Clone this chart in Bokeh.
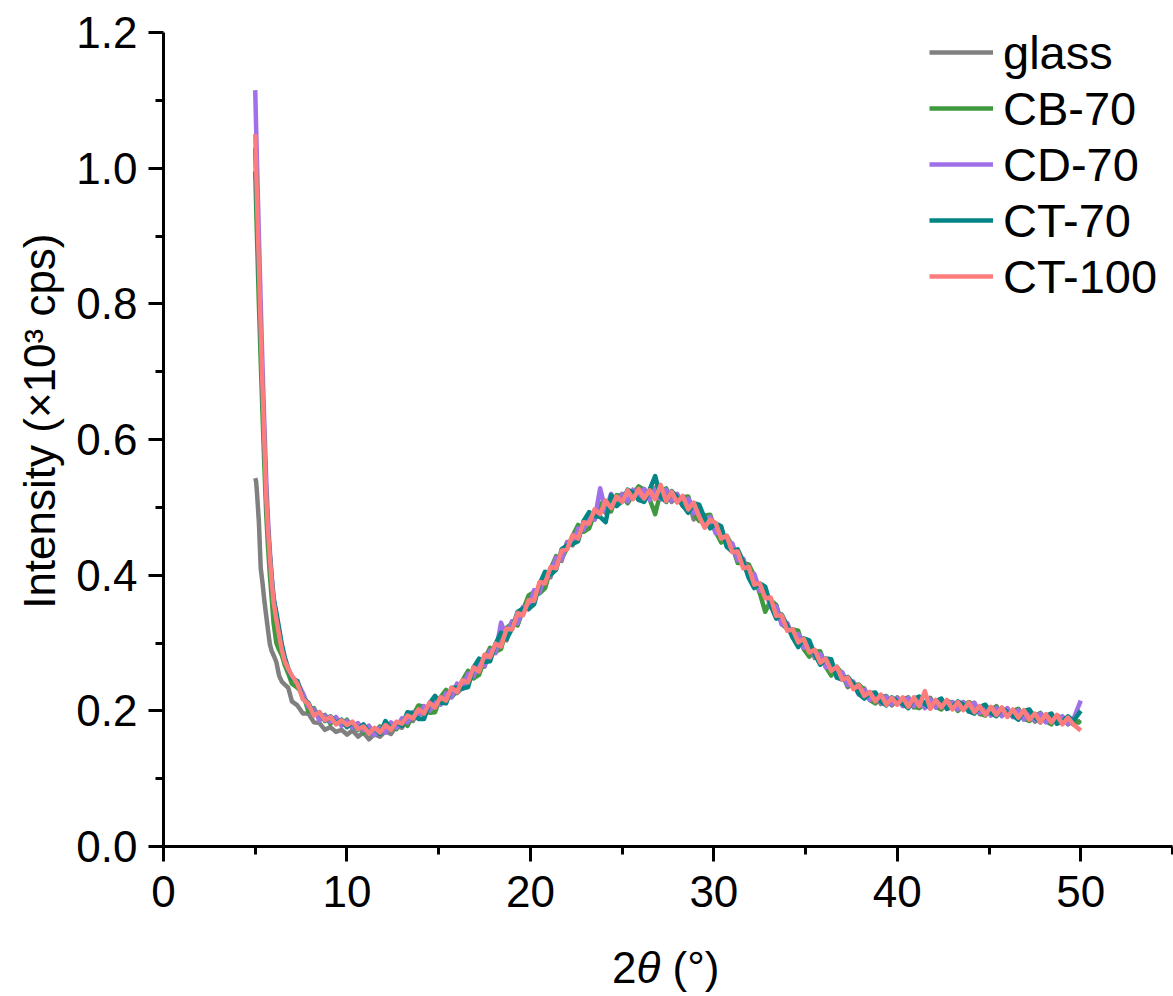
from bokeh.plotting import figure
from bokeh.models import (Range1d, FixedTicker, Legend, LegendItem, Div,
                          PrintfTickFormatter, ColumnDataSource)
from bokeh.layouts import column
from bokeh.embed import file_html
from bokeh.resources import INLINE

# 2-theta (degrees)
two_theta = [
    5.0, 5.05, 5.1, 5.2, 5.3, 5.4, 5.5, 5.6, 5.7, 5.8, 5.9, 6.0, 6.15, 6.3, 6.45, 6.6, 6.8, 7.0,
    7.3, 7.6, 7.9, 8.2, 8.5, 8.8, 9.1, 9.4, 9.7, 10.0,
    10.3, 10.6, 10.9, 11.2, 11.5, 11.8, 12.1, 12.4, 12.7, 13.0,
    13.3, 13.6, 13.9, 14.2, 14.5, 14.8, 15.1, 15.4, 15.7, 16.0,
    16.3, 16.6, 16.9, 17.2, 17.5, 17.8, 18.1, 18.4, 18.7, 19.0,
    19.3, 19.6, 19.9, 20.2, 20.5, 20.8, 21.1, 21.4, 21.7, 22.0,
    22.3, 22.6, 22.9, 23.2, 23.5, 23.8, 24.1, 24.4, 24.7, 25.0,
    25.3, 25.6, 25.9, 26.2, 26.5, 26.8, 27.1, 27.4, 27.7, 28.0,
    28.3, 28.6, 28.9, 29.2, 29.5, 29.8, 30.1, 30.4, 30.7, 31.0,
    31.3, 31.6, 31.9, 32.2, 32.5, 32.8, 33.1, 33.4, 33.7, 34.0,
    34.3, 34.6, 34.9, 35.2, 35.5, 35.8, 36.1, 36.4, 36.7, 37.0,
    37.3, 37.6, 37.9, 38.2, 38.5, 38.8, 39.1, 39.4, 39.7, 40.0,
    40.3, 40.6, 40.9, 41.2, 41.5, 41.8, 42.1, 42.4, 42.7, 43.0,
    43.3, 43.6, 43.9, 44.2, 44.5, 44.8, 45.1, 45.4, 45.7, 46.0,
    46.3, 46.6, 46.9, 47.2, 47.5, 47.8, 48.1, 48.4, 48.7, 49.0,
    49.3, 49.6, 50.0]

# intensities in cps
glass = [
    543, 538, 520, 478, 410, 388, 362, 340, 318, 298, 288, 282, 272, 252, 243, 239, 234, 214,
    208, 196, 196, 183, 182, 172, 176, 169, 172, 165,
    171, 162, 168, 158, 166, 162, 170, 166, 178, 175,
    190, 185, 200, 193, 210, 202, 219, 212, 231, 226,
    234, 254, 248, 271, 265, 291, 286, 309, 304, 332,
    327, 353, 350, 376, 375, 402, 397, 424, 421, 449,
    444, 469, 466, 490, 482, 502, 492, 514, 504, 520,
    507, 524, 511, 527, 514, 529, 512, 524, 508, 518,
    502, 513, 482, 500, 480, 486, 462, 469, 444, 446,
    423, 424, 397, 399, 374, 378, 353, 355, 329, 329,
    308, 313, 294, 300, 278, 284, 266, 271, 251, 255,
    235, 242, 225, 233, 217, 225, 210, 220, 208, 220,
    208, 218, 205, 217, 205, 219, 205, 217, 203, 213,
    201, 213, 200, 210, 195, 206, 194, 207, 193, 203,
    191, 202, 188, 198, 184, 196, 184, 195, 181, 191,
    180, 188, 182]

cb70 = [
    995, 945, 895, 800, 715, 635, 560, 490, 440, 400, 365, 330, 300, 290, 282, 268, 255, 240,
    234, 225, 199, 204, 188, 194, 181, 189, 180, 187,
    174, 181, 168, 177, 167, 177, 170, 181, 173, 188,
    178, 194, 208, 206, 197, 198, 220, 231, 220, 230,
    245, 259, 248, 253, 276, 293, 287, 291, 322, 329,
    326, 349, 370, 375, 373, 381, 409, 428, 424, 440,
    458, 474, 464, 469, 491, 506, 495, 494, 518, 517,
    506, 520, 531, 526, 512, 490, 523, 528, 510, 511,
    515, 516, 490, 480, 488, 489, 464, 448, 458, 443,
    418, 418, 416, 399, 374, 346, 363, 356, 328, 321,
    320, 318, 291, 280, 287, 288, 265, 252, 265, 254,
    236, 238, 239, 230, 216, 211, 220, 222, 210, 212,
    217, 220, 206, 204, 212, 218, 206, 202, 215, 211,
    200, 207, 213, 208, 196, 193, 203, 206, 194, 196,
    200, 203, 188, 185, 192, 197, 185, 180, 193, 189,
    186, 180, 185]

cd70 = [
    1115, 1060, 1005, 900, 800, 705, 620, 540, 480, 435, 398, 368, 340, 318, 295, 278, 262, 250,
    242, 226, 206, 202, 186, 193, 184, 191, 178, 185,
    175, 182, 171, 178, 164, 175, 168, 183, 175, 189,
    183, 198, 192, 207, 200, 216, 209, 226, 220, 240,
    233, 255, 251, 274, 267, 289, 285, 330, 308, 332,
    329, 353, 350, 378, 375, 400, 400, 426, 423, 448,
    446, 469, 467, 489, 482, 528, 495, 520, 502, 519,
    509, 526, 513, 527, 511, 526, 512, 526, 510, 520,
    503, 513, 491, 500, 481, 486, 462, 466, 443, 447,
    422, 424, 397, 402, 377, 378, 353, 354, 327, 329,
    309, 313, 293, 300, 280, 284, 264, 269, 251, 257,
    238, 243, 224, 231, 216, 226, 212, 221, 210, 218,
    207, 219, 207, 220, 204, 217, 205, 217, 203, 213,
    202, 213, 199, 212, 197, 207, 193, 204, 192, 204,
    191, 201, 187, 201, 186, 196, 183, 195, 182, 192,
    181, 188, 215]

ct70 = [
    1030, 985, 935, 840, 750, 668, 590, 515, 465, 428, 395, 365, 345, 322, 298, 280, 262, 248,
    244, 218, 212, 194, 198, 185, 192, 182, 187, 176,
    183, 172, 180, 168, 174, 166, 185, 173, 183, 178,
    198, 196, 188, 188, 211, 222, 212, 211, 234, 234,
    233, 235, 264, 277, 272, 273, 299, 315, 306, 321,
    346, 351, 350, 357, 387, 405, 401, 408, 438, 444,
    446, 450, 480, 493, 487, 486, 478, 518, 502, 509,
    526, 522, 511, 508, 526, 546, 515, 508, 524, 515,
    503, 492, 506, 504, 484, 469, 476, 472, 442, 435,
    438, 420, 396, 381, 388, 383, 355, 336, 342, 325,
    308, 294, 307, 304, 283, 268, 277, 276, 249, 246,
    250, 240, 225, 218, 226, 227, 214, 208, 220, 214,
    210, 204, 218, 221, 210, 204, 214, 218, 203, 206,
    214, 209, 199, 196, 206, 209, 197, 192, 204, 198,
    193, 187, 200, 202, 190, 183, 193, 196, 181, 184,
    192, 185, 200]

ct100 = [
    1050, 1000, 950, 855, 760, 675, 595, 515, 465, 425, 390, 360, 335, 312, 290, 274, 262, 252,
    240, 217, 210, 193, 198, 186, 191, 180, 186, 179,
    184, 173, 177, 167, 175, 168, 179, 172, 184, 181,
    193, 189, 202, 196, 212, 205, 220, 215, 234, 228,
    245, 242, 264, 258, 283, 279, 299, 295, 321, 320,
    344, 341, 363, 362, 390, 388, 412, 410, 436, 438,
    459, 454, 478, 476, 497, 490, 510, 499, 516, 508,
    525, 512, 527, 513, 525, 512, 533, 509, 523, 507,
    517, 497, 507, 486, 470, 482, 477, 454, 458, 434,
    435, 410, 412, 386, 388, 366, 367, 340, 341, 318,
    320, 301, 306, 286, 290, 271, 277, 259, 265, 246,
    249, 232, 238, 222, 228, 214, 224, 209, 219, 209,
    220, 206, 220, 207, 229, 203, 216, 205, 216, 202,
    213, 201, 212, 198, 207, 194, 206, 194, 205, 191,
    202, 190, 201, 187, 196, 183, 195, 183, 194, 180,
    190, 180, 171]

series_names = ["glass", "CB-70", "CD-70", "CT-70", "CT-100"]
series_values = [glass, cb70, cd70, ct70, ct100]
series_colors = ["#808080", "#3f993f", "#a070e8", "#018585", "#fd7d7d"]

x_major = [0, 10, 20, 30, 40, 50]
x_minor = [5, 15, 25, 35, 45, 55]
y_major = [0.0, 0.2, 0.4, 0.6, 0.8, 1.0, 1.2]
y_minor = [0.1, 0.3, 0.5, 0.7, 0.9, 1.1]

for nm, vals in zip(series_names, series_values):
    if len(vals) != len(two_theta):
        raise ValueError(f"{nm}: {len(vals)} vs {len(two_theta)}")

FONT = "Liberation Sans"

p = figure(width=1173, height=946, x_range=Range1d(0, 55), y_range=Range1d(0, 1.2),
           output_backend="svg", toolbar_location=None,
           min_border_left=163, min_border_right=1, min_border_top=32, min_border_bottom=100)
p.outline_line_color = None
p.xgrid.visible = False
p.ygrid.visible = False
p.background_fill_color = "white"
p.border_fill_color = "white"

items = []
for nm, vals, col in zip(series_names, series_values, series_colors):
    src = ColumnDataSource(dict(x=two_theta, y=[v / 1000.0 for v in vals]))
    r = p.line("x", "y", source=src, line_color=col, line_width=4.5, line_join="round")
    items.append(LegendItem(label=nm, renderers=[r]))

for ax in (p.xaxis[0], p.yaxis[0]):
    ax.axis_line_width = 3
    ax.axis_line_color = "black"
    ax.major_tick_line_width = 3
    ax.minor_tick_line_width = 3
    ax.major_tick_line_color = "black"
    ax.minor_tick_line_color = "black"
    ax.major_tick_in = 0
    ax.major_tick_out = 15
    ax.minor_tick_in = 0
    ax.minor_tick_out = 8
    ax.major_label_text_font = FONT
    ax.major_label_text_font_size = "44px"
    ax.major_label_text_color = "black"

p.xaxis[0].ticker = FixedTicker(ticks=x_major, minor_ticks=x_minor)
p.yaxis[0].ticker = FixedTicker(ticks=y_major, minor_ticks=y_minor)
p.yaxis[0].formatter = PrintfTickFormatter(format="%.1f")
p.xaxis[0].major_label_standoff = 14
p.yaxis[0].major_label_standoff = 11

p.yaxis[0].axis_label = "\u00a0\u00a0\u00a0Intensity (×10³ cps)"
p.yaxis[0].axis_label_text_font = FONT
p.yaxis[0].axis_label_text_font_size = "44px"
p.yaxis[0].axis_label_text_font_style = "normal"
p.yaxis[0].axis_label_text_color = "black"
p.yaxis[0].axis_label_standoff = 9

legend = Legend(items=items, location=(766, 542), padding=0, margin=0, spacing=0,
                glyph_width=64, glyph_height=56, label_height=56, label_standoff=10,
                label_text_font=FONT, label_text_font_size="47px", label_text_color="black",
                border_line_color=None, background_fill_alpha=0)
p.add_layout(legend)

# x-axis title as real text, theta in italics
xtitle = Div(text="2<i>θ</i> (°)", width=1173, height=50, margin=(0, 0, 0, 0),
             styles={"font-family": "'Liberation Sans'", "font-size": "44px",
                     "line-height": "44px", "color": "black", "white-space": "nowrap",
                     "padding-left": "612px", "box-sizing": "border-box"})

layout = column(p, xtitle, spacing=0)
open("out.html", "w").write(file_html(layout, INLINE))
